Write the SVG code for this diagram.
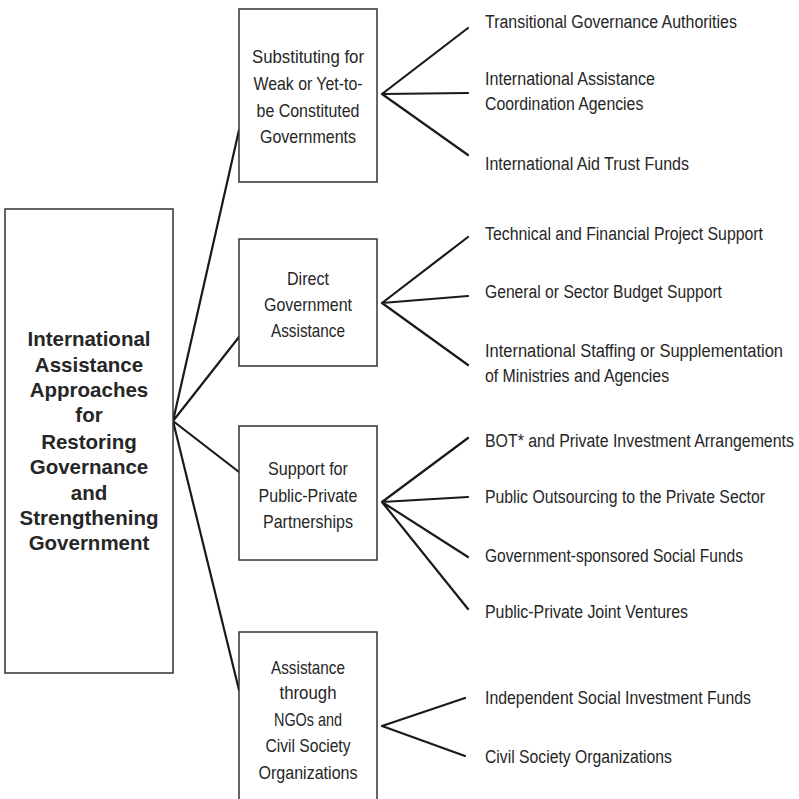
<svg xmlns="http://www.w3.org/2000/svg" width="799" height="799" viewBox="0 0 799 799">
<style>
.box{fill:#fff;stroke:#333;stroke-width:1.5}
.c{fill:none;stroke:#1a1a1a;stroke-width:2.2;stroke-linecap:round}
.t{font-family:"Liberation Sans Narrow","Liberation Sans",Arial,sans-serif;font-size:19px;fill:#262626}
.m{text-anchor:middle}
.b{font-family:"Liberation Sans",Arial,sans-serif;font-weight:bold;font-size:20.5px;fill:#262626;text-anchor:middle}
</style>
<rect width="799" height="799" fill="#fff"/>
<g id="connectors">
<path class="c" d="M173 421L239 130M173 421L239 337M173 421L239 472M173 421L239 690"/>
<path class="c" d="M382 94L468 28M382 94L468 93M382 94L468 155"/>
<path class="c" d="M382 303L468 237M382 303L468 296M382 303L468 365"/>
<path class="c" d="M382 502L468 438M382 502L468 497M382 502L468 557M382 502L468 609"/>
<path class="c" d="M382 726L465 698M382 726L465 756"/>
</g>
<g id="root">
<rect class="box" x="5" y="209" width="168" height="464"/>
<text class="b" x="89" y="346">International</text>
<text class="b" x="89" y="372">Assistance</text>
<text class="b" x="89" y="397">Approaches</text>
<text class="b" x="89" y="422">for</text>
<text class="b" x="89" y="449">Restoring</text>
<text class="b" x="89" y="474">Governance</text>
<text class="b" x="89" y="500">and</text>
<text class="b" x="89" y="525">Strengthening</text>
<text class="b" x="89" y="550">Government</text>
</g>
<g id="n1">
<rect class="box" x="239" y="9" width="138" height="173"/>
<text class="t m" x="308" y="63" textLength="112" lengthAdjust="spacingAndGlyphs">Substituting for</text>
<text class="t m" x="308" y="90" textLength="109" lengthAdjust="spacingAndGlyphs">Weak or Yet-to-</text>
<text class="t m" x="308" y="117" textLength="103" lengthAdjust="spacingAndGlyphs">be Constituted</text>
<text class="t m" x="308" y="143" textLength="96" lengthAdjust="spacingAndGlyphs">Governments</text>
</g>
<g id="n2">
<rect class="box" x="239" y="239" width="138" height="127"/>
<text class="t m" x="308" y="285" textLength="42" lengthAdjust="spacingAndGlyphs">Direct</text>
<text class="t m" x="308" y="311" textLength="88" lengthAdjust="spacingAndGlyphs">Government</text>
<text class="t m" x="308" y="337" textLength="74" lengthAdjust="spacingAndGlyphs">Assistance</text>
</g>
<g id="n3">
<rect class="box" x="239" y="426" width="138" height="134"/>
<text class="t m" x="308" y="475" textLength="80" lengthAdjust="spacingAndGlyphs">Support for</text>
<text class="t m" x="308" y="502" textLength="99" lengthAdjust="spacingAndGlyphs">Public-Private</text>
<text class="t m" x="308" y="528" textLength="90" lengthAdjust="spacingAndGlyphs">Partnerships</text>
</g>
<g id="n4">
<rect class="box" x="239" y="632" width="138" height="175"/>
<text class="t m" x="308" y="674" textLength="74" lengthAdjust="spacingAndGlyphs">Assistance</text>
<text class="t m" x="308" y="699" textLength="57" lengthAdjust="spacingAndGlyphs">through</text>
<text class="t m" x="308" y="726" textLength="68" lengthAdjust="spacingAndGlyphs">NGOs and</text>
<text class="t m" x="308" y="752" textLength="85" lengthAdjust="spacingAndGlyphs">Civil Society</text>
<text class="t m" x="308" y="779" textLength="99" lengthAdjust="spacingAndGlyphs">Organizations</text>
</g>
<g id="leaves" transform="matrix(0.78 0 0 1 485 0)">
<g id="leaves1">
<text id="l1" class="t" x="0" y="28" textLength="323" lengthAdjust="spacingAndGlyphs">Transitional Governance Authorities</text>
<g id="l2"><text class="t" x="0" y="85" textLength="218" lengthAdjust="spacingAndGlyphs">International Assistance</text>
<text class="t" x="0" y="110" textLength="203" lengthAdjust="spacingAndGlyphs">Coordination Agencies</text></g>
<text id="l3" class="t" x="0" y="170" textLength="261.5" lengthAdjust="spacingAndGlyphs">International Aid Trust Funds</text>
</g>
<g id="leaves2">
<text id="l4" class="t" x="0" y="240" textLength="356.4" lengthAdjust="spacingAndGlyphs">Technical and Financial Project Support</text>
<text id="l5" class="t" x="0" y="298" textLength="303.8" lengthAdjust="spacingAndGlyphs">General or Sector Budget Support</text>
<g id="l6"><text class="t" x="0" y="357" textLength="382" lengthAdjust="spacingAndGlyphs">International Staffing or Supplementation</text>
<text class="t" x="0" y="382" textLength="236" lengthAdjust="spacingAndGlyphs">of Ministries and Agencies</text></g>
</g>
<g id="leaves3">
<text id="l7" class="t" x="0" y="447" textLength="396" lengthAdjust="spacingAndGlyphs">BOT* and Private Investment Arrangements</text>
<text id="l8" class="t" x="0" y="503" textLength="359" lengthAdjust="spacingAndGlyphs">Public Outsourcing to the Private Sector</text>
<text id="l9" class="t" x="0" y="562" textLength="330.8" lengthAdjust="spacingAndGlyphs">Government-sponsored Social Funds</text>
<text id="l10" class="t" x="0" y="618" textLength="260.3" lengthAdjust="spacingAndGlyphs">Public-Private Joint Ventures</text>
</g>
<g id="leaves4">
<text id="l11" class="t" x="0" y="704" textLength="341" lengthAdjust="spacingAndGlyphs">Independent Social Investment Funds</text>
<text id="l12" class="t" x="0" y="763" textLength="239.7" lengthAdjust="spacingAndGlyphs">Civil Society Organizations</text>
</g>
</g>
</svg>
